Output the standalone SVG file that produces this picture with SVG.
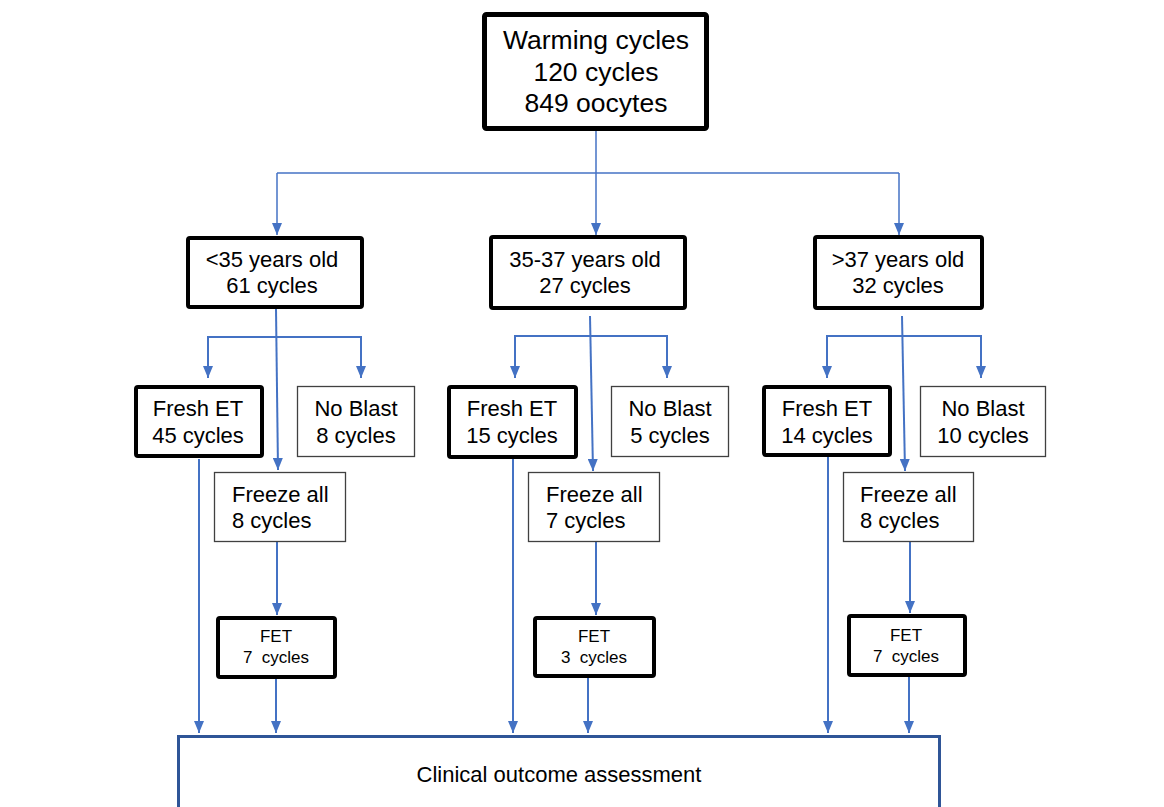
<svg xmlns="http://www.w3.org/2000/svg" width="1164" height="807" viewBox="0 0 1164 807">
<style>
text{font-family:"Liberation Sans",Arial,sans-serif;fill:#000;text-anchor:middle}
.t26{font-size:26.5px}
.t22{font-size:22px}
.t17{font-size:17px}
.l{text-anchor:start}
.thick{fill:#fff;stroke:#000;stroke-width:4;}
.root{fill:#fff;stroke:#000;stroke-width:5;}
.thin{fill:#fff;stroke:#404040;stroke-width:1.3;}
.c{fill:none;stroke:#4472C4;stroke-width:2}
.c1{fill:none;stroke:#4472C4;stroke-width:1.5}
</style>
<defs>
<marker id="ah" viewBox="0 0 12 10" refX="12" refY="5" markerWidth="12" markerHeight="10" markerUnits="userSpaceOnUse" orient="auto">
<path d="M0,0 L12,5 L0,10 z" fill="#4472C4"/>
</marker>
</defs>
<rect width="1164" height="807" fill="#fff"/>
<g id="connectors">
<path class="c1" d="M277,173 H899"/>
<path class="c1" d="M277,173 V235" marker-end="url(#ah)"/>
<path class="c1" d="M596,131 V235" marker-end="url(#ah)"/>
<path class="c1" d="M899,173 V235" marker-end="url(#ah)"/>
<path class="c" d="M276,309 L278,470" marker-end="url(#ah)"/>
<path class="c" d="M276,337 H208 V378" marker-end="url(#ah)"/>
<path class="c" d="M276,337 H361 V378" marker-end="url(#ah)"/>
<path class="c" d="M590,316 L593,471" marker-end="url(#ah)"/>
<path class="c" d="M590,336 H515 V378" marker-end="url(#ah)"/>
<path class="c" d="M590,336 H667 V378" marker-end="url(#ah)"/>
<path class="c" d="M902,316 L905,471" marker-end="url(#ah)"/>
<path class="c" d="M902,336 H827 V378" marker-end="url(#ah)"/>
<path class="c" d="M902,336 H981 V378" marker-end="url(#ah)"/>
<path class="c" d="M199,459 V733" marker-end="url(#ah)"/>
<path class="c" d="M513,459 V733" marker-end="url(#ah)"/>
<path class="c" d="M828,457 V733" marker-end="url(#ah)"/>
<path class="c" d="M277,542 V615" marker-end="url(#ah)"/>
<path class="c" d="M596,542 V615" marker-end="url(#ah)"/>
<path class="c" d="M910,542 V613" marker-end="url(#ah)"/>
<path class="c" d="M276,679 V733" marker-end="url(#ah)"/>
<path class="c" d="M588,678 V733" marker-end="url(#ah)"/>
<path class="c" d="M909,677 V733" marker-end="url(#ah)"/>
</g>
<g id="root">
<rect class="root" x="484.5" y="14.5" width="222" height="114" rx="2"/>
<text class="t26" x="596" y="49">Warming cycles</text>
<text class="t26" x="596" y="81">120 cycles</text>
<text class="t26" x="596" y="112">849 oocytes</text>
</g>
<g id="age1">
<rect class="thick" x="188" y="238" width="174" height="69" rx="2"/>
<text class="t22" x="272" y="267">&lt;35 years old</text>
<text class="t22" x="272" y="293">61 cycles</text>
</g>
<g id="age2">
<rect class="thick" x="491" y="237" width="194" height="71" rx="2"/>
<text class="t22" x="585" y="267">35-37 years old</text>
<text class="t22" x="585" y="293">27 cycles</text>
</g>
<g id="age3">
<rect class="thick" x="815" y="237" width="167" height="71" rx="2"/>
<text class="t22" x="898" y="267">&gt;37 years old</text>
<text class="t22" x="898" y="293">32 cycles</text>
</g>
<g id="fresh1">
<rect class="thick" x="136" y="387" width="126" height="69" rx="2"/>
<text class="t22" x="198" y="416">Fresh ET</text>
<text class="t22" x="198" y="443">45 cycles</text>
</g>
<g id="fresh2">
<rect class="thick" x="449" y="387" width="127" height="70" rx="2"/>
<text class="t22" x="512" y="416">Fresh ET</text>
<text class="t22" x="512" y="443">15 cycles</text>
</g>
<g id="fresh3">
<rect class="thick" x="764" y="387" width="126" height="68" rx="2"/>
<text class="t22" x="827" y="416">Fresh ET</text>
<text class="t22" x="827" y="443">14 cycles</text>
</g>
<g id="noblast1">
<rect class="thin" x="297.5" y="386.5" width="117" height="70"/>
<text class="t22" x="356" y="416">No Blast</text>
<text class="t22" x="356" y="443">8 cycles</text>
</g>
<g id="noblast2">
<rect class="thin" x="611.5" y="386.5" width="117" height="70"/>
<text class="t22" x="670" y="416">No Blast</text>
<text class="t22" x="670" y="443">5 cycles</text>
</g>
<g id="noblast3">
<rect class="thin" x="920.5" y="386.5" width="125" height="70"/>
<text class="t22" x="983" y="416">No Blast</text>
<text class="t22" x="983" y="443">10 cycles</text>
</g>
<g id="freeze1">
<rect class="thin" x="214.5" y="472.5" width="131" height="69"/>
<text class="t22 l" x="232" y="502">Freeze all</text>
<text class="t22 l" x="232" y="528">8 cycles</text>
</g>
<g id="freeze2">
<rect class="thin" x="528.5" y="472.5" width="131" height="69"/>
<text class="t22 l" x="546" y="502">Freeze all</text>
<text class="t22 l" x="546" y="528">7 cycles</text>
</g>
<g id="freeze3">
<rect class="thin" x="843.5" y="472.5" width="130" height="69"/>
<text class="t22 l" x="860" y="502">Freeze all</text>
<text class="t22 l" x="860" y="528">8 cycles</text>
</g>
<g id="fet1">
<rect class="thick" x="218" y="618" width="117" height="59" rx="2"/>
<text class="t17" x="276" y="642">FET</text>
<text class="t17" x="276" y="663" xml:space="preserve">7  cycles</text>
</g>
<g id="fet2">
<rect class="thick" x="535" y="618" width="119" height="58" rx="2"/>
<text class="t17" x="594" y="642">FET</text>
<text class="t17" x="594" y="663" xml:space="preserve">3  cycles</text>
</g>
<g id="fet3">
<rect class="thick" x="849" y="616" width="116" height="59" rx="2"/>
<text class="t17" x="906" y="641">FET</text>
<text class="t17" x="906" y="662" xml:space="preserve">7  cycles</text>
</g>
<g id="clinical">
<rect x="178.5" y="736.5" width="761" height="100" fill="#fff" stroke="#2F5597" stroke-width="3"/>
<text class="t22" x="559" y="782">Clinical outcome assessment</text>
</g>
</svg>
